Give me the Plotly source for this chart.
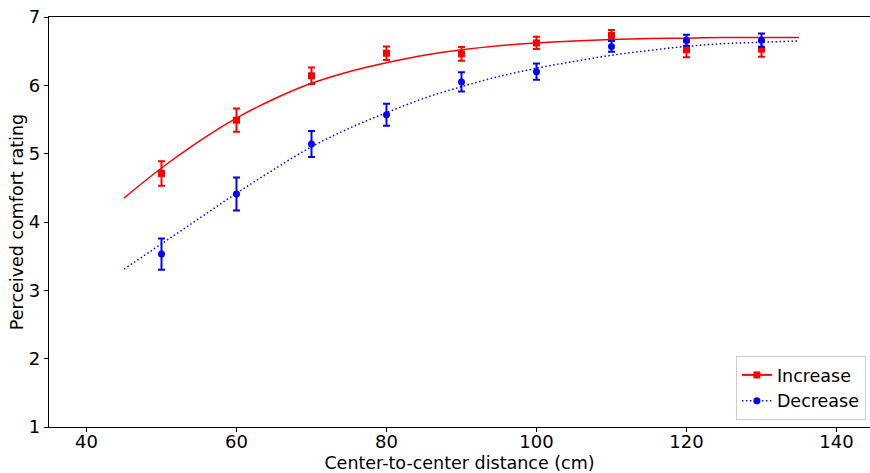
import plotly.graph_objects as go

# Measured points
dist = [50, 60, 70, 80, 90, 100, 110, 120, 130]
inc_mean = [4.71, 5.49, 6.14, 6.47, 6.46, 6.62, 6.73, 6.52, 6.53]
inc_err = [0.18, 0.17, 0.12, 0.10, 0.10, 0.09, 0.08, 0.11, 0.11]
dec_mean = [3.53, 4.41, 5.14, 5.57, 6.05, 6.20, 6.57, 6.66, 6.66]
dec_err = [0.23, 0.24, 0.19, 0.16, 0.14, 0.12, 0.08, 0.08, 0.10]

# Fitted curves
fit_x = [45, 50, 55, 60, 65, 70, 75, 80, 85, 90, 95, 100, 105, 110, 115, 120, 125, 130, 135]
inc_fit = [4.35, 4.79, 5.18, 5.52, 5.80, 6.03, 6.20, 6.33, 6.44, 6.52, 6.58, 6.62, 6.65, 6.67, 6.685, 6.69, 6.70, 6.70, 6.70]
dec_fit = [3.31, 3.68, 4.05, 4.42, 4.77, 5.10, 5.37, 5.60, 5.81, 5.98, 6.13, 6.25, 6.35, 6.44, 6.51, 6.57, 6.61, 6.63, 6.65]

x_ticks = [40, 60, 80, 100, 120, 140]
y_ticks = [1, 2, 3, 4, 5, 6, 7]

RED = "#ff0000"
BLUE = "#0000ff"
FONT = "DejaVu Sans"
DOT = "1.5px,2.5px"

fig = go.Figure()

fig.add_trace(go.Scatter(x=fit_x, y=inc_fit, mode="lines", line=dict(color=RED, width=1.5, shape="spline"),
                         showlegend=False, hoverinfo="skip"))
fig.add_trace(go.Scatter(x=fit_x, y=dec_fit, mode="lines", line=dict(color=BLUE, width=1.5, dash=DOT, shape="spline"),
                         showlegend=False, hoverinfo="skip"))

fig.add_trace(go.Scatter(x=dist, y=inc_mean, mode="markers",
                         marker=dict(symbol="square", size=7, color=RED),
                         error_y=dict(type="data", array=inc_err, color=RED, thickness=2, width=3.5),
                         showlegend=False))
fig.add_trace(go.Scatter(x=dist, y=dec_mean, mode="markers",
                         marker=dict(symbol="circle", size=7, color=BLUE),
                         error_y=dict(type="data", array=dec_err, color=BLUE, thickness=2, width=3.5),
                         showlegend=False))

# Legend entries
fig.add_trace(go.Scatter(x=[None], y=[None], mode="lines+markers", name="Increase",
                         line=dict(color=RED, width=2), marker=dict(symbol="square", size=7, color=RED)))
fig.add_trace(go.Scatter(x=[None], y=[None], mode="lines+markers", name="Decrease",
                         line=dict(color=BLUE, width=1.5, dash=DOT), marker=dict(symbol="circle", size=7, color=BLUE)))

fig.update_layout(
    width=870, height=473,
    margin=dict(l=49, r=0, t=17, b=46, autoexpand=False),
    paper_bgcolor="white", plot_bgcolor="white",
    font=dict(family=FONT, size=17.5, color="black"),
    legend=dict(x=0.995, y=0.017, xanchor="right", yanchor="bottom",
                bgcolor="rgba(255,255,255,0.8)", bordercolor="#cccccc", borderwidth=1,
                font=dict(size=17.5)),
    xaxis=dict(range=[35, 144.47], tickvals=x_ticks, ticks="outside", ticklen=4, tickcolor="black",
               showline=True, linecolor="black", linewidth=1.2, mirror=True, showgrid=False, zeroline=False,
               automargin=False, ticklabelstandoff=-6,
               title=dict(text="Center-to-center distance (cm)", font=dict(size=17.5), standoff=10),
               tickfont=dict(size=18)),
    yaxis=dict(range=[1, 7], tickvals=y_ticks, ticks="outside", ticklen=4, tickcolor="black",
               showline=True, linecolor="black", linewidth=1.2, showgrid=False, zeroline=False,
               automargin=False,
               title=dict(text="Perceived comfort rating", font=dict(size=17.5), standoff=0),
               tickfont=dict(size=18)),
)

fig.write_html("out.html", config={"displayModeBar": False},
               post_script="document.body.style.margin='0';document.body.style.overflow='hidden';")
